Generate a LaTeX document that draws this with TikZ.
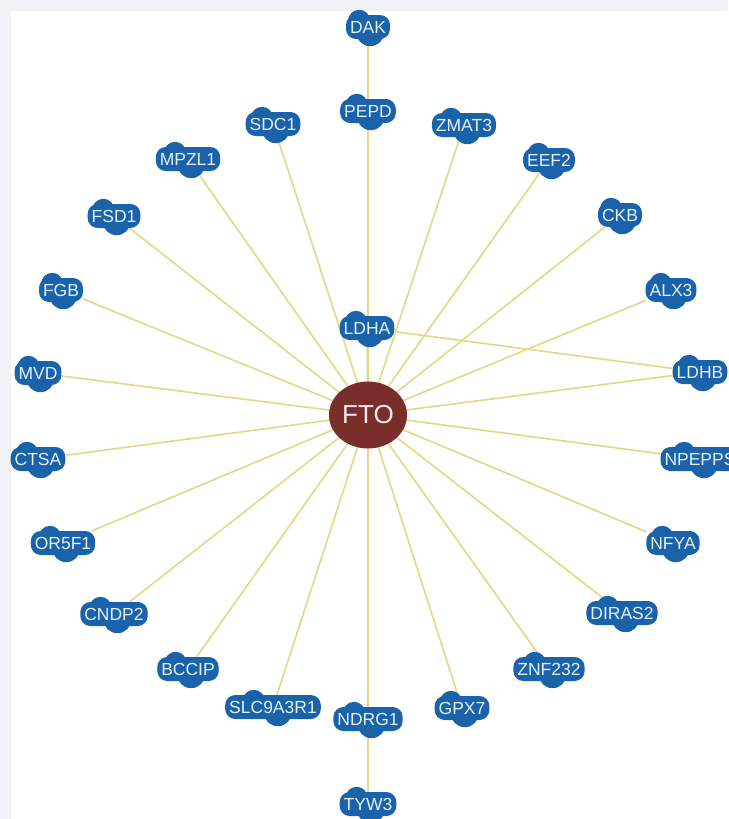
\documentclass[tikz,border=0pt]{standalone}
\usepackage{fontspec}
\setmainfont{Liberation Sans}
\usetikzlibrary{calc,shapes.geometric}
\pgfdeclarelayer{bgl}
\pgfdeclarelayer{edges}
\pgfdeclarelayer{bumps}
\pgfsetlayers{bgl,edges,bumps,main}
\definecolor{gblue}{HTML}{1A62AA}
\definecolor{gtext}{HTML}{E2F1FC}
\definecolor{edgec}{HTML}{E7D684}
\definecolor{ftoc}{HTML}{7A2E2C}
\definecolor{ftotext}{HTML}{F6E8E8}
\definecolor{bggray}{HTML}{F1F2F7}
\tikzset{
  gene/.style={fill=gblue, text=gtext, rounded corners=10pt, inner xsep=4pt, inner ysep=3pt,
    minimum height=24pt, font=\fontsize{17.5}{19}\selectfont},
  hub/.style={ellipse, fill=ftoc, text=ftotext, minimum width=78pt, minimum height=67pt,
    inner sep=0pt, font=\fontsize{26}{29}\selectfont},
  link/.style={draw=edgec, line width=1.6pt}
}
\newcommand\gene[4]{%
  \node[gene] (#1) at (#2,#3) {#4};
  \begin{pgfonlayer}{bumps}
    \fill[gblue] ($(#1.north)!0.4!(#1.north west)+(0,6)$) circle (11pt);
    \fill[gblue] ($(#1.south)!0.1!(#1.south east)+(0,-7)$) circle (14pt);
  \end{pgfonlayer}}
\begin{document}
\begin{tikzpicture}[x=1pt,y=-1pt]
\useasboundingbox (0,0) rectangle (728,819);
\begin{pgfonlayer}{bgl}
  \fill[bggray] (0,0) rectangle (728,819);
  \fill[white] (11,11) rectangle (728,819);
\end{pgfonlayer}
\node[hub] (FTO) at (368,415) {FTO};
\gene{DAK}{368}{27}{DAK}
\gene{PEPD}{368}{111}{PEPD}
\gene{SDC1}{273}{124}{SDC1}
\gene{ZMAT3}{464}{125}{ZMAT3}
\gene{MPZL1}{188}{159}{MPZL1}
\gene{EEF2}{549}{160}{EEF2}
\gene{FSD1}{114}{216}{FSD1}
\gene{CKB}{620}{215}{CKB}
\gene{FGB}{61}{290}{FGB}
\gene{ALX3}{671}{290}{ALX3}
\gene{LDHA}{367}{328}{LDHA}
\gene{MVD}{38}{373}{MVD}
\gene{LDHB}{700}{372}{LDHB}
\gene{CTSA}{38}{459}{CTSA}
\gene{NPEPPS}{700}{459}{NPEPPS}
\gene{OR5F1}{63}{543}{OR5F1}
\gene{NFYA}{673}{543}{NFYA}
\gene{CNDP2}{114}{614}{CNDP2}
\gene{DIRAS2}{622}{613}{DIRAS2}
\gene{BCCIP}{188}{669}{BCCIP}
\gene{ZNF232}{549}{669}{ZNF232}
\gene{SLC9A3R1}{273}{707}{SLC9A3R1}
\gene{NDRG1}{368}{719}{NDRG1}
\gene{GPX7}{462}{708}{GPX7}
\gene{TYW3}{368}{804}{TYW3}
\begin{pgfonlayer}{edges}
  \foreach \n in {PEPD,SDC1,ZMAT3,MPZL1,EEF2,FSD1,CKB,FGB,ALX3,LDHA,MVD,LDHB,CTSA,NPEPPS,OR5F1,NFYA,CNDP2,DIRAS2,BCCIP,ZNF232,SLC9A3R1,NDRG1,GPX7}
    \draw[link] (FTO.center) -- (\n);
  \draw[link] (DAK) -- (PEPD);
  \draw[link] (NDRG1) -- (TYW3);
  \draw[link] (LDHA) -- (LDHB);
\end{pgfonlayer}
\end{tikzpicture}
\end{document}
